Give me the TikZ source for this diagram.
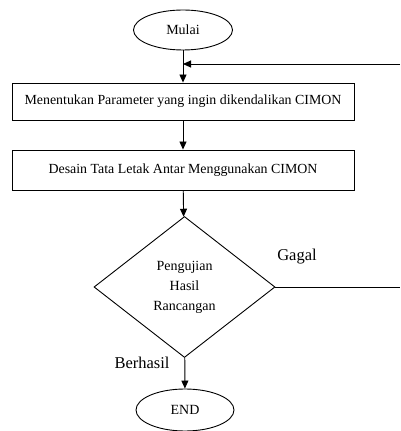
\documentclass[tikz,border=0pt]{standalone}
\usepackage{fontspec}
\setmainfont{Liberation Serif}
\usetikzlibrary{shapes.geometric,arrows.meta}
\begin{document}
\begin{tikzpicture}[x=1pt,y=1pt,
  line width=0.9pt,
  arr/.style={-{Triangle[length=8pt,width=7pt]}},
  term/.style={draw,ellipse,inner sep=0pt,font=\fontsize{14}{16}\selectfont},
  procbox/.style={draw,rectangle,minimum width=342pt,inner sep=0pt,font=\fontsize{13.9}{16}\selectfont},
  decis/.style={draw,diamond,inner sep=0pt,minimum width=181pt,minimum height=141pt,align=center,font=\fontsize{14}{20}\selectfont},
  lbl/.style={inner sep=0pt,font=\fontsize{16.5}{18}\selectfont}]
\useasboundingbox (0,0) rectangle (400,431);
\node[term,minimum width=99pt,minimum height=40pt] (mulai) at (183,401) {Mulai};
\node[procbox,minimum height=37pt] (box1) at (183,329.5) {Menentukan Parameter yang ingin dikendalikan CIMON};
\node[procbox,minimum height=40pt] (box2) at (183,261) {Desain Tata Letak Antar Menggunakan CIMON};
\node[decis] (uji) at (184.5,144) {Pengujian\\Hasil\\Rancangan};
\node[term,minimum width=98pt,minimum height=42pt] (end) at (185,21) {END};
\node[lbl] (gagal) at (297,174) {Gagal};
\node[lbl] (berhasil) at (142,68) {Berhasil};
\coordinate (fbR) at (400,367);
\coordinate (fbL) at (mulai.south |- fbR);
\coordinate (gR) at (400,144);
\draw[arr] (mulai) -- (box1);
\draw[arr] (fbR) -- (fbL);
\draw[arr] (box1) -- (box2);
\draw[arr] (box2) -- (uji);
\draw[arr] (uji) -- (end);
\draw (uji.east) -- (gR);
\end{tikzpicture}
\end{document}
